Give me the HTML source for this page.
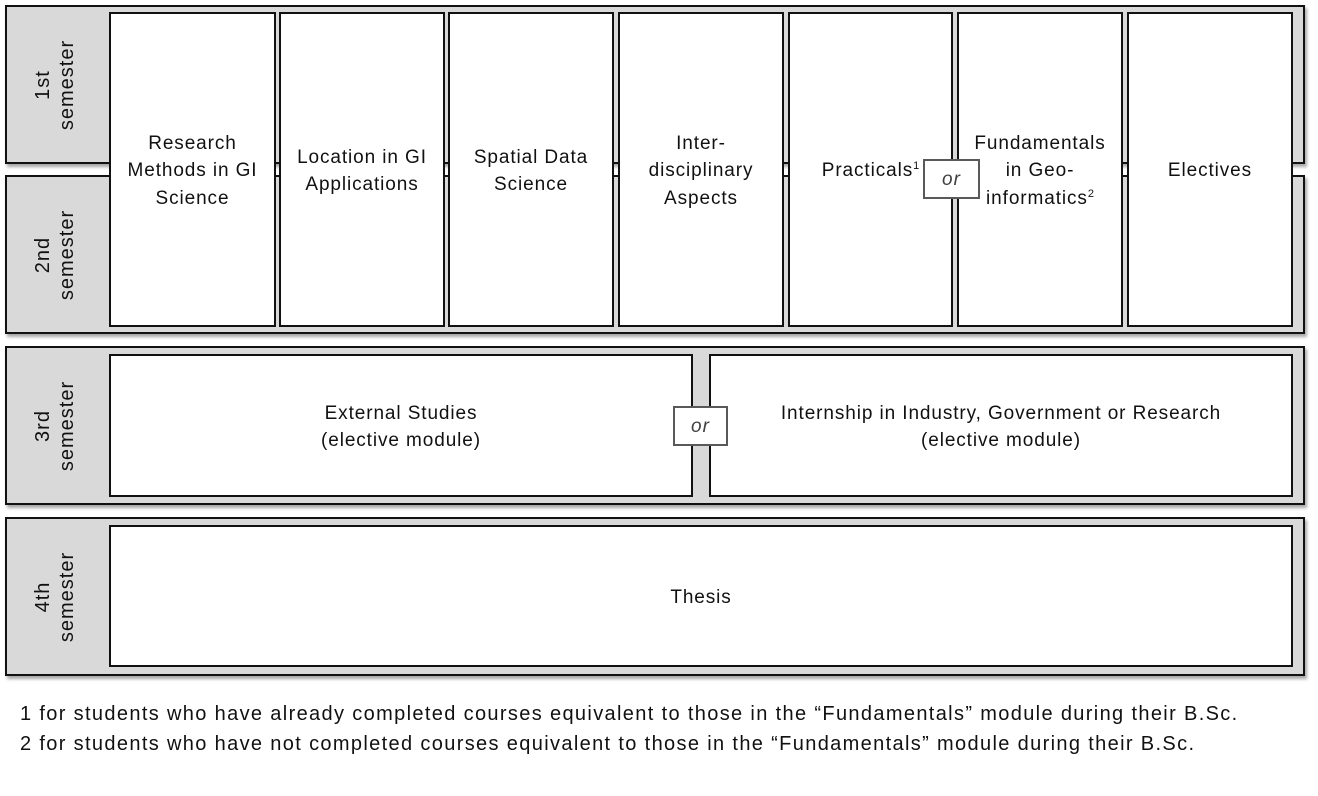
<!DOCTYPE html>
<html><head><style>
body{margin:0;width:1318px;height:796px;background:#fff;position:relative;overflow:hidden;font-family:"Liberation Sans",sans-serif;}
.band{position:absolute;left:5px;width:1300px;background:#d9d9d9;border:2px solid #111;box-shadow:2px 3px 3px rgba(0,0,0,0.35);box-sizing:border-box;}
.lab{position:absolute;left:5px;width:100px;display:flex;align-items:center;justify-content:center;}
.lab div{transform:rotate(-90deg);text-align:center;font-size:20px;letter-spacing:1px;line-height:24px;color:#111;white-space:nowrap;}
.box{position:absolute;background:#fff;border:2px solid #111;box-sizing:border-box;display:flex;align-items:center;justify-content:center;text-align:center;font-size:19px;letter-spacing:0.9px;line-height:27.5px;color:#111;padding-top:3px;}
.or{position:absolute;background:#fff;border:2px solid #595959;box-sizing:border-box;display:flex;align-items:center;justify-content:center;font-style:italic;font-size:19px;letter-spacing:1px;color:#404040;padding-top:2px;}
sup{font-size:11px;line-height:0;vertical-align:7px;letter-spacing:0;}
.fn{position:absolute;left:20px;font-size:20px;letter-spacing:1.35px;color:#111;white-space:nowrap;}
</style></head><body>
<div class="band" style="top:5px;height:159px"></div>
<div class="band" style="top:175px;height:159px"></div>
<div class="band" style="top:346px;height:159px"></div>
<div class="band" style="top:517px;height:159px"></div>
<div class="lab" style="top:5px;height:159px"><div>1st<br>semester</div></div>
<div class="lab" style="top:175px;height:159px"><div>2nd<br>semester</div></div>
<div class="lab" style="top:346px;height:159px"><div>3rd<br>semester</div></div>
<div class="lab" style="top:517px;height:159px"><div>4th<br>semester</div></div>

<div class="box" style="left:109px;top:12px;width:167px;height:315px"><div>Research<br>Methods in GI<br>Science</div></div>
<div class="box" style="left:279px;top:12px;width:166px;height:315px"><div>Location in GI<br>Applications</div></div>
<div class="box" style="left:448px;top:12px;width:166px;height:315px"><div>Spatial Data<br>Science</div></div>
<div class="box" style="left:618px;top:12px;width:166px;height:315px"><div>Inter-<br>disciplinary<br>Aspects</div></div>
<div class="box" style="left:788px;top:12px;width:165px;height:315px"><div>Practicals<sup>1</sup></div></div>
<div class="box" style="left:957px;top:12px;width:166px;height:315px"><div>Fundamentals<br>in Geo-<br>informatics<sup>2</sup></div></div>
<div class="box" style="left:1127px;top:12px;width:166px;height:315px"><div>Electives</div></div>
<div class="or" style="left:923px;top:159px;width:57px;height:40px">or</div>

<div class="box" style="left:109px;top:354px;width:584px;height:143px"><div>External Studies<br>(elective module)</div></div>
<div class="box" style="left:709px;top:354px;width:584px;height:143px"><div>Internship in Industry, Government or Research<br>(elective module)</div></div>
<div class="or" style="left:673px;top:406px;width:55px;height:40px">or</div>

<div class="box" style="left:109px;top:525px;width:1184px;height:142px"><div>Thesis</div></div>

<div class="fn" style="top:703px">1 for students who have already completed courses equivalent to those in the “Fundamentals” module during their B.Sc.</div>
<div class="fn" style="top:733px">2 for students who have not completed courses equivalent to those in the “Fundamentals” module during their B.Sc.</div>
</body></html>
